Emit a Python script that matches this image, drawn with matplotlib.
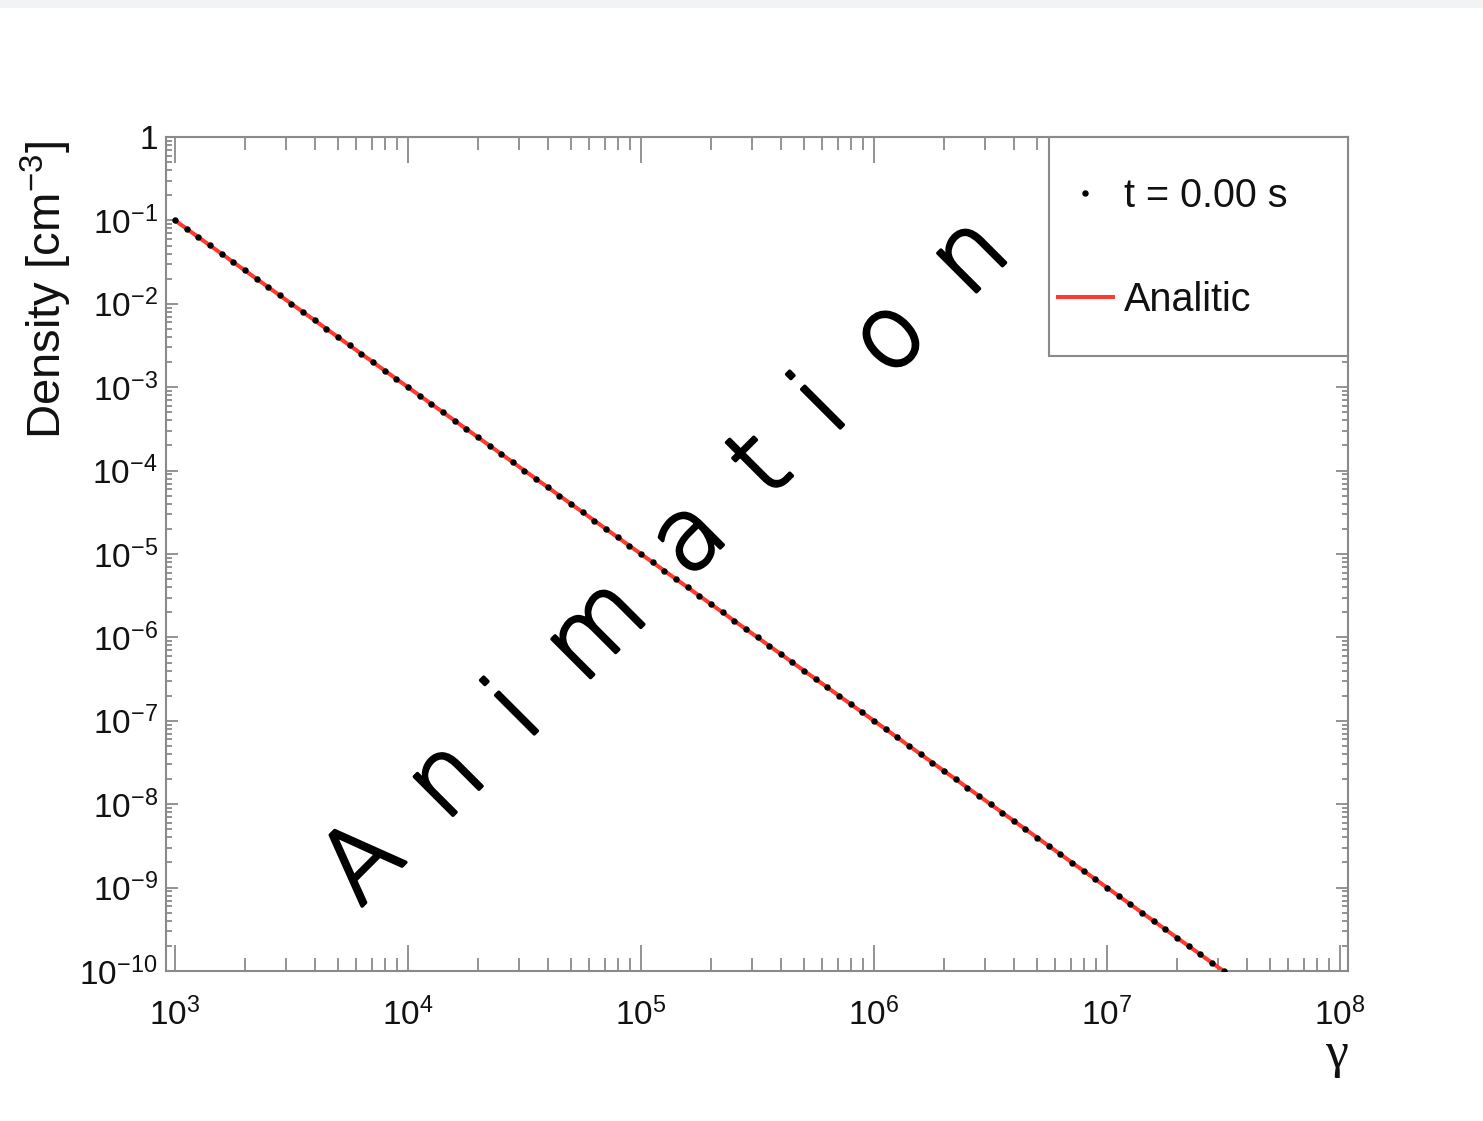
import numpy as np
import matplotlib
matplotlib.use("Agg")
import matplotlib.pyplot as plt
import matplotlib.patheffects as pe
from matplotlib.patches import Rectangle
from matplotlib.offsetbox import DrawingArea
from matplotlib.ticker import LogLocator, FixedLocator, FixedFormatter, NullFormatter

# ---------------- data ----------------
log_gamma = [
    3.00, 3.05, 3.10, 3.15, 3.20, 3.25, 3.30, 3.35, 3.40, 3.45,
    3.50, 3.55, 3.60, 3.65, 3.70, 3.75, 3.80, 3.85, 3.90, 3.95,
    4.00, 4.05, 4.10, 4.15, 4.20, 4.25, 4.30, 4.35, 4.40, 4.45,
    4.50, 4.55, 4.60, 4.65, 4.70, 4.75, 4.80, 4.85, 4.90, 4.95,
    5.00, 5.05, 5.10, 5.15, 5.20, 5.25, 5.30, 5.35, 5.40, 5.45,
    5.50, 5.55, 5.60, 5.65, 5.70, 5.75, 5.80, 5.85, 5.90, 5.95,
    6.00, 6.05, 6.10, 6.15, 6.20, 6.25, 6.30, 6.35, 6.40, 6.45,
    6.50, 6.55, 6.60, 6.65, 6.70, 6.75, 6.80, 6.85, 6.90, 6.95,
    7.00, 7.05, 7.10, 7.15, 7.20, 7.25, 7.30, 7.35, 7.40, 7.45,
    7.50,
]
log_density = [
    -1.0, -1.1, -1.2, -1.3, -1.4, -1.5, -1.6, -1.7, -1.8, -1.9,
    -2.0, -2.1, -2.2, -2.3, -2.4, -2.5, -2.6, -2.7, -2.8, -2.9,
    -3.0, -3.1, -3.2, -3.3, -3.4, -3.5, -3.6, -3.7, -3.8, -3.9,
    -4.0, -4.1, -4.2, -4.3, -4.4, -4.5, -4.6, -4.7, -4.8, -4.9,
    -5.0, -5.1, -5.2, -5.3, -5.4, -5.5, -5.6, -5.7, -5.8, -5.9,
    -6.0, -6.1, -6.2, -6.3, -6.4, -6.5, -6.6, -6.7, -6.8, -6.9,
    -7.0, -7.1, -7.2, -7.3, -7.4, -7.5, -7.6, -7.7, -7.8, -7.9,
    -8.0, -8.1, -8.2, -8.3, -8.4, -8.5, -8.6, -8.7, -8.8, -8.9,
    -9.0, -9.1, -9.2, -9.3, -9.4, -9.5, -9.6, -9.7, -9.8, -9.9,
    -10.0,
]
analytic_log_density = log_density

x_ticks = [1e3, 1e4, 1e5, 1e6, 1e7, 1e8]
y_ticks = [1e-10, 1e-9, 1e-8, 1e-7, 1e-6, 1e-5, 1e-4, 1e-3, 1e-2, 1e-1, 1e0]
y_tick_labels = [r"$\mathdefault{10^{-10}}$", r"$\mathdefault{10^{-9}}$",
                 r"$\mathdefault{10^{-8}}$", r"$\mathdefault{10^{-7}}$",
                 r"$\mathdefault{10^{-6}}$", r"$\mathdefault{10^{-5}}$",
                 r"$\mathdefault{10^{-4}}$", r"$\mathdefault{10^{-3}}$",
                 r"$\mathdefault{10^{-2}}$", r"$\mathdefault{10^{-1}}$", "1"]
series_label = "t = 0.00 s"
analytic_label = "Analitic"
watermark = "A\u2009 n\u2009 i\u2009 m\u2009 a\u2009 t\u2009 i\u2009 o\u2009 n"

gamma = 10.0 ** np.array(log_gamma)
density = 10.0 ** np.array(log_density)
analytic = 10.0 ** np.array(analytic_log_density)

# ---------------- style ----------------
plt.rcParams["font.family"] = ["Liberation Sans", "DejaVu Sans"]
plt.rcParams["mathtext.fontset"] = "custom"
plt.rcParams["mathtext.rm"] = "Liberation Sans"
plt.rcParams["mathtext.it"] = "Liberation Sans:italic"
plt.rcParams["mathtext.bf"] = "Liberation Sans:bold"
plt.rcParams["mathtext.default"] = "regular"

W, H = 1483, 1121
fig = plt.figure(figsize=(W / 100, H / 100), dpi=100)
fig.patch.set_facecolor("white")
fig.patches.append(Rectangle((0, 1 - 8 / H), 1, 8 / H, transform=fig.transFigure,
                             facecolor="#f2f3f5", edgecolor="none", zorder=0))

L, R, T, B = 166, 1348, 137, 971
ax = fig.add_axes([L / W, 1 - B / H, (R - L) / W, (B - T) / H])

ax.plot(gamma, density, linestyle="none", marker="o", ms=3.6, color="black",
        zorder=3, label=series_label)
ax.plot(gamma, analytic, "-", color="#ff3b2f", lw=2.9, zorder=2,
        label=analytic_label)

ax.set_xscale("log")
ax.set_yscale("log")
ax.set_xlim(10 ** 2.9614, 10 ** 8.0343)
ax.set_ylim(1e-10, 1)

ax.xaxis.set_major_locator(FixedLocator(x_ticks))
ax.xaxis.set_minor_locator(LogLocator(base=10, subs=np.arange(2, 10), numticks=100))
ax.xaxis.set_minor_formatter(NullFormatter())
ax.yaxis.set_major_locator(FixedLocator(y_ticks))
ax.yaxis.set_major_formatter(FixedFormatter(y_tick_labels))
ax.yaxis.set_minor_locator(LogLocator(base=10, subs=np.arange(2, 10), numticks=100))
ax.yaxis.set_minor_formatter(NullFormatter())

gray = "#8a8a8a"
for s in ax.spines.values():
    s.set_color(gray)
    s.set_linewidth(1.5)
ax.tick_params(axis="both", which="both", direction="in", top=True, right=True,
               color=gray, width=1.3, labelcolor="#111111")
ax.tick_params(axis="x", which="major", length=18.7, pad=19, labelsize=24)
ax.tick_params(axis="x", which="minor", length=9.4)
ax.tick_params(axis="y", which="major", length=8.6, pad=6, labelsize=24)
ax.tick_params(axis="y", which="minor", length=4.3)

ax.set_ylabel("Density [cm$^{-3}$]", fontsize=34, va="center", color="#111111")
ax.yaxis.set_label_coords(-0.1015, 0.8165)
ax.set_xlabel("γ", fontsize=37, family="Liberation Serif", loc="right",
              labelpad=0, color="#111111")

lx0 = (1049 - L) / (R - L)
leg = ax.legend(loc="upper left", bbox_to_anchor=(lx0, 0, 1 - lx0, 1), mode="expand",
                borderaxespad=0, fontsize=28.5, frameon=True, fancybox=False,
                edgecolor=gray, framealpha=1, borderpad=0.23, handlelength=1.38,
                handletextpad=0.28, handleheight=0.7, labelspacing=1.68, numpoints=1)
leg.get_frame().set_linewidth(1.5)
for t in leg.get_texts():
    t.set_color("#111111")
# extra vertical padding inside the legend frame (top and bottom only)
box = leg._legend_box
box.sep = 0
box._children.insert(0, DrawingArea(1, 22))
box._children.append(DrawingArea(1, 20))

fig.text(667 / W, 1 - 562 / H, watermark, fontsize=72, family="DejaVu Sans",
         fontweight=200, rotation=45, rotation_mode="anchor", ha="center",
         va="center", color="black", zorder=10,
         path_effects=[pe.withStroke(linewidth=2.4, foreground="black")])

fig.savefig("out.png", dpi=100)
